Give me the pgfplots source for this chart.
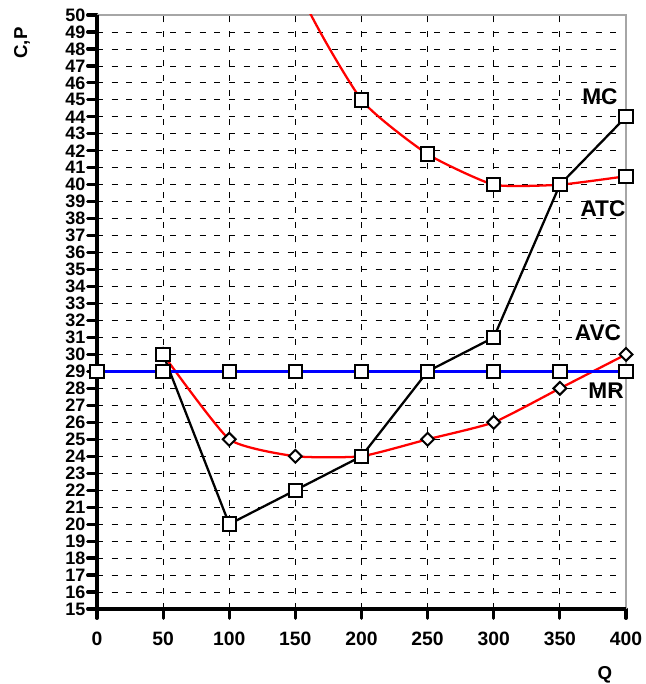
\documentclass[border=0pt]{standalone}
\usepackage{pgfplots}
\pgfplotsset{compat=1.18}
\usepackage{fontspec}
\setmainfont{Liberation Sans}
\begin{document}
\begin{tikzpicture}[x=1pt,y=1pt]
\useasboundingbox (-72.75,-56.25) rectangle (411,456.75);
\begin{axis}[
  at={(0,0)}, anchor=south west,
  scale only axis, width=396.75pt, height=445.5pt,
  xmin=0, xmax=400, ymin=15, ymax=50,
  xtick={0,50,...,400}, ytick={15,16,...,50},
  xtick pos=left, ytick pos=left,
  tick align=outside, major tick length=7pt,
  tick style={black, line width=2.4pt, line cap=round},
  grid=major,
  major grid style={black, line width=0.6pt, dash pattern=on 4.5pt off 6.5pt},
  axis line style={draw=none},
  clip=false,
  /pgf/number format/assume math mode=true,
  yticklabel style={font=\bfseries\fontsize{13.5}{13.5}\selectfont, inner xsep=1.5pt, inner ysep=0pt},
  xticklabel style={font=\bfseries\fontsize{14.5}{14.5}\selectfont, yshift=-7pt},
]
% frame
\draw[gray!70, line width=1.6pt] (rel axis cs:0,1) -- (rel axis cs:1,1) -- (rel axis cs:1,0);
\draw[black, line width=3pt] (rel axis cs:0,1) -- (rel axis cs:0,0) -- (rel axis cs:1,0);

% ATC (red, smooth, squares)
\begin{scope}
\clip (rel axis cs:0,0) rectangle (rel axis cs:1,1);
\addplot[red, line width=1.7pt, smooth, tension=0.3, mark=none] coordinates {
  (50,114) (100,67) (150,52) (200,45) (250,41.8) (300,40) (350,40) (400,40.5)};
\end{scope}
\addplot[only marks, mark=square*, mark size=5pt, mark options={fill=white, draw=black, line width=1.5pt}] coordinates {
  (200,45) (250,41.8) (300,40) (350,40) (400,40.5)};

% AVC (red, smooth, diamonds)
\addplot[red, line width=1.7pt, smooth, tension=0.3, mark=square*, mark size=3.4pt,
  mark options={rotate=45, fill=white, draw=black, line width=1.5pt, solid}] coordinates {
  (50,30) (100,25) (150,24) (200,24) (250,25) (300,26) (350,28) (400,30)};

% MC (black, squares)
\addplot[black, line width=1.7pt, mark=square*, mark size=5pt,
  mark options={fill=white, draw=black, line width=1.5pt}] coordinates {
  (50,30) (100,20) (150,22) (200,24) (250,29) (300,31) (350,40) (400,44)};

% MR (blue, squares)
\addplot[blue, line width=1.7pt, mark=square*, mark size=5pt,
  mark options={fill=white, draw=black, line width=1.5pt}] coordinates {
  (0,29) (50,29) (100,29) (150,29) (200,29) (250,29) (300,29) (350,29) (400,29)};

% labels
\node[font=\bfseries\fontsize{17}{17}\selectfont] at (axis cs:380.3,45.2) {MC};
\node[font=\bfseries\fontsize{17}{17}\selectfont] at (axis cs:382.6,38.57) {ATC};
\node[font=\bfseries\fontsize{17}{17}\selectfont] at (axis cs:378.8,31.3) {AVC};
\node[font=\bfseries\fontsize{17}{17}\selectfont] at (axis cs:384.9,27.85) {MR};
\node[font=\bfseries\fontsize{14}{14}\selectfont, rotate=90] at (axis cs:-56.7,48.35) {C,P};
\node[font=\bfseries\fontsize{14}{14}\selectfont] at (axis cs:384,11.1) {Q};
\end{axis}
\end{tikzpicture}
\end{document}
